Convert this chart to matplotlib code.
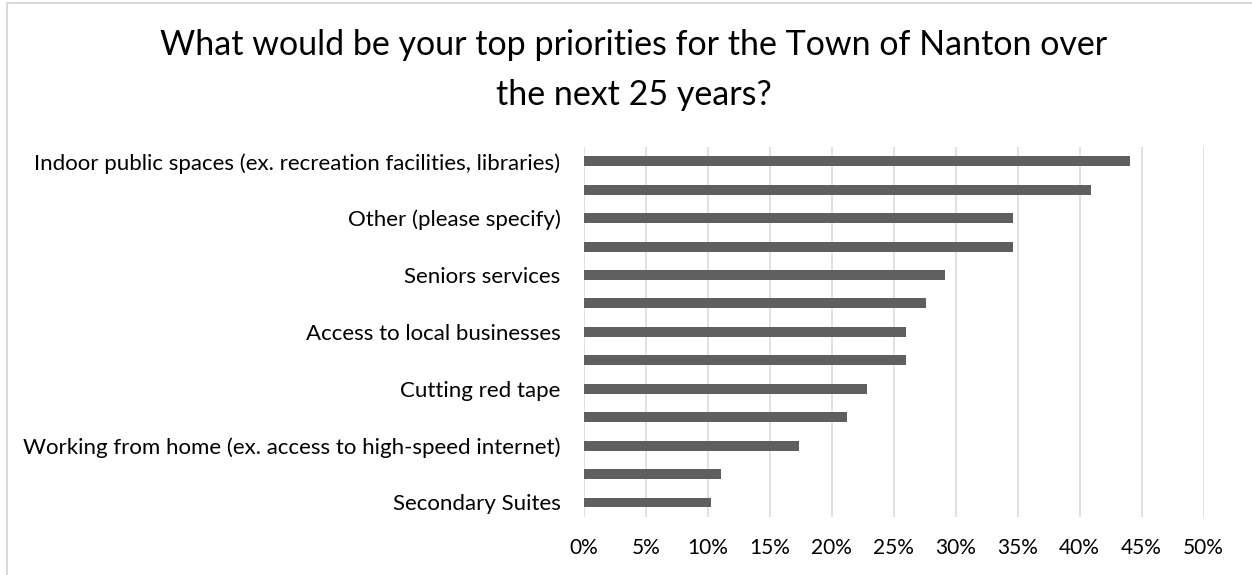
"""
Survey: top priorities for the Town of Nanton over the next 25 years
"""

import matplotlib.pyplot as plt
from matplotlib.patches import Rectangle
import numpy as np

# categories, top to bottom (only every second name is printed on the axis)
categories = [
    "Indoor public spaces (ex. recreation facilities, libraries)",
    "",
    "Other (please specify)",
    "",
    "Seniors services",
    "",
    "Access to local businesses",
    "",
    "Cutting red tape",
    "",
    "Working from home (ex. access to high-speed internet)",
    "",
    "Secondary Suites",
]
# share of respondents, %
share = [44.09, 40.94, 34.65, 34.65, 29.13, 27.56, 25.98, 25.98,
         22.83, 21.26, 17.32, 11.02, 10.24]
x_ticks = np.arange(0, 51, 5)
x_tick_labels = [f"{t}%" for t in x_ticks]

plt.rcParams['font.family'] = ['Lato', 'DejaVu Sans']

fig = plt.figure(figsize=(12.52, 5.75), dpi=100)
ax = fig.add_axes([0.4665, 0.1014, 0.4948, 0.6429])

y = np.arange(len(categories))
ax.barh(y, share, height=0.35, color='#5f5f5f', zorder=3)

ax.set_xlim(0, 50)
ax.set_ylim(len(categories) - 0.5, -0.5)
ax.set_yticks(y)
ax.set_yticklabels(categories, fontsize=16)
ax.set_xticks(x_ticks)
ax.set_xticklabels(x_tick_labels, fontsize=15)
ax.tick_params(axis='both', length=0)
ax.tick_params(axis='y', pad=17)
ax.tick_params(axis='x', pad=15)

ax.grid(axis='x', color='#d9d9d9', linewidth=1.1, zorder=0)
for s in ax.spines.values():
    s.set_visible(False)

fig.text(0.506, 0.922, "What would be your top priorities for the Town of Nanton over",
         ha='center', va='center', fontsize=24.5)
fig.text(0.506, 0.835, "the next 25 years?", ha='center', va='center', fontsize=24.5)

# chart area border (runs off the right and bottom edges)
fig.patches.append(Rectangle((7 / 1252, -0.05), 1.1, 1 - 3 / 575 + 0.05,
                             transform=fig.transFigure, fill=False,
                             edgecolor='#d9d9d9', linewidth=1.5))

fig.savefig('out.png', dpi=100)
